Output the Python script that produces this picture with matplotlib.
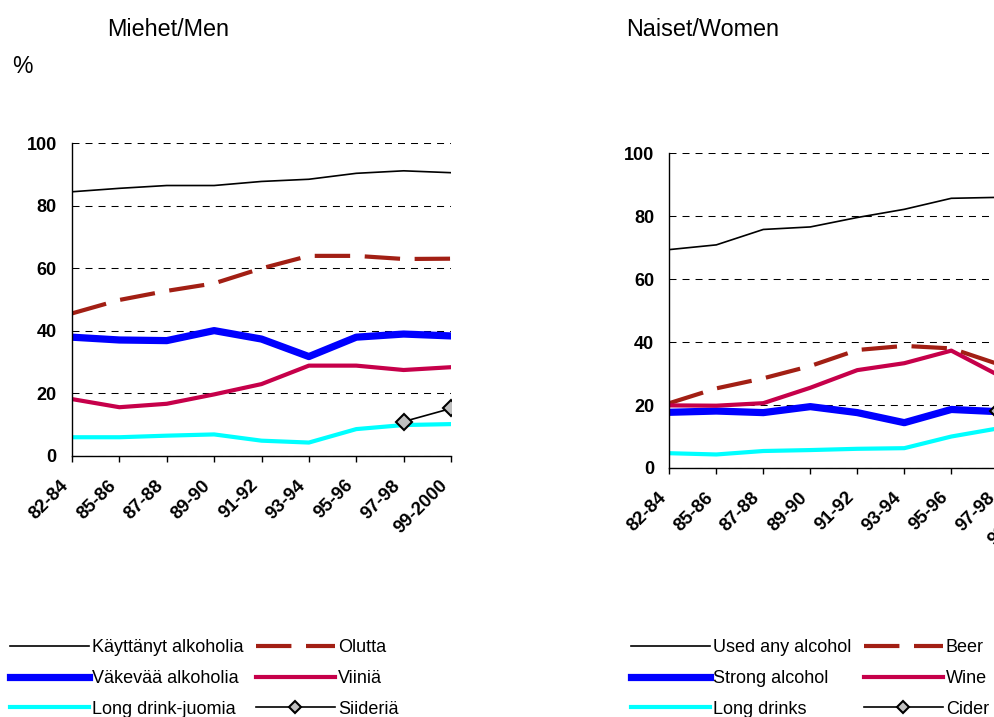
import numpy as np
from matplotlib import pyplot as plt

plt.rcParams['font.family'] = ['Liberation Sans', 'DejaVu Sans']

periods = ['82-84', '85-86', '87-88', '89-90', '91-92', '93-94', '95-96', '97-98', '99-2000']

# men
men_any = [84.5, 85.6, 86.5, 86.5, 87.8, 88.5, 90.4, 91.2, 90.6]
men_beer = [45.6, 49.9, 52.8, 55.2, 60.0, 64.0, 64.0, 63.0, 63.1]
men_strong = [38.0, 37.1, 36.9, 40.1, 37.4, 31.8, 38.0, 39.0, 38.4]
men_wine = [18.2, 15.6, 16.7, 19.7, 23.0, 28.9, 28.9, 27.5, 28.4]
men_long = [6.0, 6.0, 6.5, 6.9, 4.9, 4.3, 8.6, 9.9, 10.2]
men_cider = [None, None, None, None, None, None, None, 11.0, 15.2]

# women
women_any = [69.4, 70.9, 75.8, 76.6, 79.6, 82.2, 85.7, 86.0, 86.5]
women_beer = [20.6, 25.3, 28.5, 32.4, 37.5, 38.8, 38.0, 33.0, 34.0]
women_strong = [17.7, 18.1, 17.6, 19.5, 17.6, 14.4, 18.6, 17.9, 18.0]
women_wine = [19.9, 19.8, 20.6, 25.5, 31.1, 33.3, 37.3, 29.5, 30.0]
women_long = [4.7, 4.3, 5.4, 5.7, 6.1, 6.3, 10.0, 12.6, 13.0]
women_cider = [None, None, None, None, None, None, None, 18.0, 20.0]

labels_fi = ['Käyttänyt alkoholia', 'Olutta', 'Väkevää alkoholia', 'Viiniä',
             'Long drink-juomia', 'Siideriä']
labels_en = ['Used any alcohol', 'Beer', 'Strong alcohol', 'Wine',
             'Long drinks', 'Cider']

yticks = [0, 20, 40, 60, 80, 100]

W, H = 994, 717


def draw_panel(ax, any_, beer, strong, wine, long_, cider, labels):
    x = np.arange(len(periods))
    h = {}
    h['any'], = ax.plot(x, any_, color='black', lw=1.2)
    h['beer'], = ax.plot(x, beer, color='#A21F14', lw=3.0, dashes=(8.5, 3.5))
    h['strong'], = ax.plot(x, strong, color='#0000FF', lw=5.2)
    h['wine'], = ax.plot(x, wine, color='#C6004A', lw=3.0)
    h['long'], = ax.plot(x, long_, color='#00FFFF', lw=3.0)
    h['cider'], = ax.plot(x, np.array(cider, dtype=float), color='black', lw=1.2,
                          marker='D', ms=7.8, mfc='#C0C0C0', mec='black', mew=1.5)
    ax.set_xlim(0, len(periods) - 1)
    ax.set_ylim(0, 100)
    ax.set_yticks(yticks)
    ax.set_xticks(x)
    ax.set_xticklabels(periods, rotation=45, ha='right', va='top',
                       fontsize=13.3, fontweight='bold')
    ax.tick_params(axis='x', direction='out', length=4, width=1, pad=11)
    ax.tick_params(axis='y', length=0, pad=11, labelsize=13)
    for t in ax.get_yticklabels():
        t.set_fontweight('bold')
    for s in ['top', 'right']:
        ax.spines[s].set_visible(False)
    for s in ['left', 'bottom']:
        ax.spines[s].set_linewidth(1.0)
    ax.yaxis.grid(True, color='black', lw=0.75, linestyle=(0, (6.7, 5.8)))
    ax.set_axisbelow(True)
    ax.set_clip_on(False)
    order = ['any', 'strong', 'long', 'beer', 'wine', 'cider']
    names = dict(zip(['any', 'beer', 'strong', 'wine', 'long', 'cider'], labels))
    return [h[k] for k in order], [names[k] for k in order]


fig = plt.figure(figsize=(W / 100, H / 100), dpi=100)

ax1 = fig.add_axes([72 / W, 1 - 456 / H, 379 / W, 312.7 / H])
ax2 = fig.add_axes([669.3 / W, 1 - 468 / H, 376 / W, 314.7 / H])

hd1, lb1 = draw_panel(ax1, men_any, men_beer, men_strong, men_wine, men_long,
                      men_cider, labels_fi)
hd2, lb2 = draw_panel(ax2, women_any, women_beer, women_strong, women_wine,
                      women_long, women_cider, labels_en)

fig.text(107 / W, 1 - 36 / H, 'Miehet/Men', fontsize=16.8, va='baseline')
fig.text(626 / W, 1 - 36 / H, 'Naiset/Women', fontsize=16.8, va='baseline')
fig.text(12 / W, 1 - 73 / H, '%', fontsize=16.5, va='baseline')

leg_kw = dict(ncol=2, frameon=False, fontsize=13, handlelength=4.4,
              handletextpad=0.15, columnspacing=0.67, labelspacing=0.75,
              borderpad=0, borderaxespad=0, markerscale=0.8, loc='upper left')
fig.legend(hd1, lb1, bbox_to_anchor=(10 / W, 1 - 639.5 / H), **leg_kw)
fig.legend(hd2, lb2, bbox_to_anchor=(631 / W, 1 - 639.5 / H), **leg_kw)

fig.savefig('out.png', dpi=100)
